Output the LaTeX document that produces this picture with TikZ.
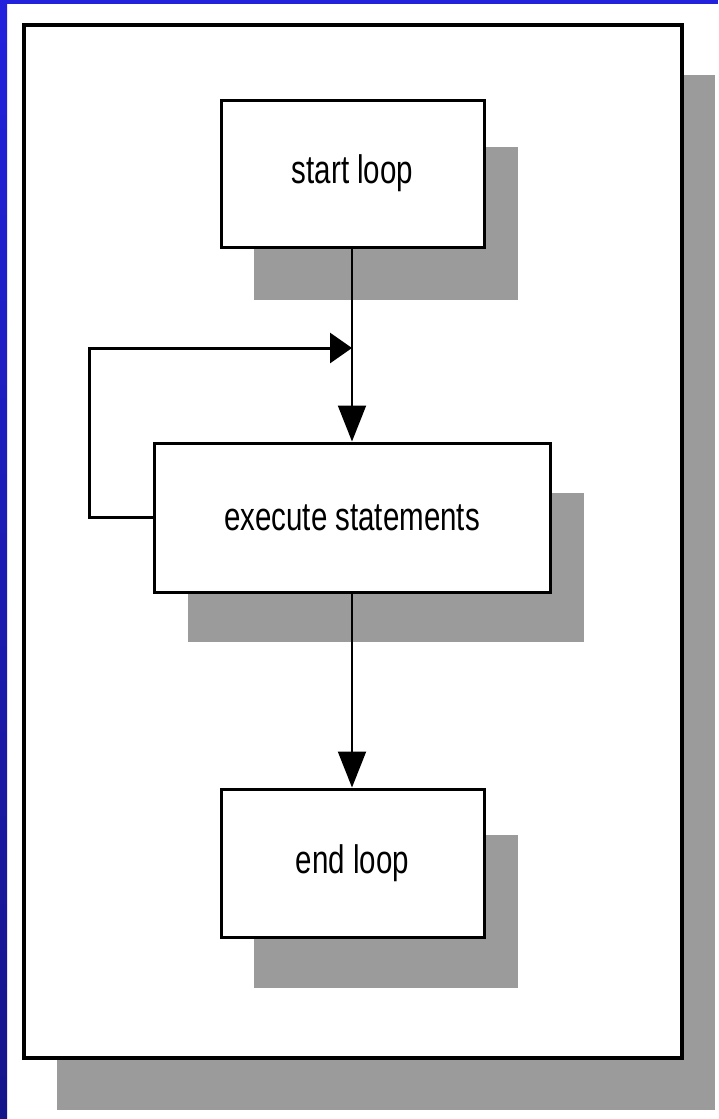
\documentclass[tikz,border=0pt]{standalone}
\usepackage{fontspec}
\setmainfont{Liberation Sans}
\usetikzlibrary{arrows.meta}
\definecolor{slideblue}{HTML}{2222DD}
\definecolor{slidebluedark}{HTML}{15158A}
\definecolor{shadowgrey}{HTML}{9B9B9B}
\newcommand{\boxlabel}[1]{\scalebox{1}[1.35]{#1}}
\tikzset{
  stepbox/.style={draw=black, fill=white, line width=3pt, rectangle,
    inner sep=0pt, font=\fontsize{29.5}{32}\selectfont},
  shadowbox/.style={fill=shadowgrey},
  flowline/.style={line width=2pt, -{Triangle[width=28pt,length=36pt]}},
  loopline/.style={line width=3pt, -{Triangle[width=30pt,length=22pt]}}
}
\begin{document}
\begin{tikzpicture}[x=1pt,y=-1pt]
  \useasboundingbox (0,0) rectangle (718,1119);
  % slide background and blue edge
  \fill[white] (0,0) rectangle (718,1119);
  \shade[top color=slideblue, bottom color=slidebluedark] (0,0) rectangle (7,1119);
  \fill[slideblue] (0,0) rectangle (718,4);
  % outer frame with its drop shadow
  \fill[shadowgrey] (57,75) rectangle (715,1110);
  \draw[line width=4pt, fill=white] (24,25) rectangle (682,1058);
  % box shadows
  \fill[shadowbox] (254,147) rectangle (518,300);
  \fill[shadowbox] (188,493) rectangle (584,642);
  \fill[shadowbox] (254,835) rectangle (518,988);
  % flowchart boxes
  \node[stepbox, minimum width=263pt, minimum height=147pt] (start) at (352.5,173.5) {\boxlabel{start loop}};
  \node[stepbox, minimum width=396pt, minimum height=149pt] (exec) at (352,517.5) {\boxlabel{execute statements}};
  \node[stepbox, minimum width=263pt, minimum height=148pt] (finish) at (352.5,863) {\boxlabel{end loop}};
  % connectors
  \coordinate (join) at (352,348);
  \draw[flowline] (start.south -| join) -- (exec.north -| join);
  \draw[flowline] (exec.south -| join) -- (finish.north -| join);
  \draw[loopline] (exec.west) -- ++(-63,0) |- (join);
\end{tikzpicture}
\end{document}
